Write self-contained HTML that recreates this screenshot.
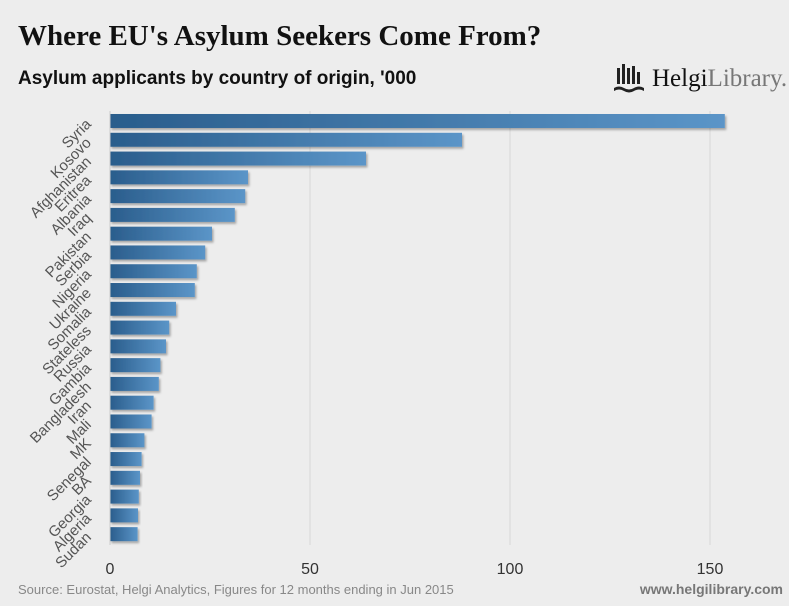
<!DOCTYPE html>
<html><head><meta charset="utf-8"><style>
body{margin:0;background:#ededed;}
svg{display:block;font-family:"Liberation Sans",sans-serif;}
</style></head><body>
<svg width="789" height="606" viewBox="0 0 789 606">
<defs>
<linearGradient id="g" x1="0" x2="1" y1="0" y2="0"><stop offset="0" stop-color="#2a5d8c"/><stop offset="1" stop-color="#5b95c8"/></linearGradient>
<filter id="sh" x="-5%" y="-30%" width="115%" height="180%"><feDropShadow dx="1.5" dy="2" stdDeviation="1" flood-color="#000" flood-opacity="0.3"/></filter>
</defs>
<rect width="789" height="606" fill="#ededed"/>
<text x="18" y="45" font-family="'Liberation Serif',serif" font-weight="bold" font-size="29" fill="#111">Where EU's Asylum Seekers Come From?</text>
<text x="18" y="84" font-weight="bold" font-size="19" fill="#111">Asylum applicants by country of origin, '000</text>
<g>
<g fill="#222"><rect x="617" y="68" width="3" height="16"/><rect x="622" y="64" width="3" height="20"/><rect x="627" y="68" width="3" height="16"/><rect x="632" y="66" width="3" height="18"/><rect x="637" y="72" width="3" height="12"/><path d="M614 88 q5 -3 10 0 t10 0 t10 0 l0 3 q-5 -3 -10 0 t-10 0 t-10 0z"/></g>
<text x="652" y="86" font-family="'Liberation Serif',serif" font-size="25" fill="#111">Helgi<tspan fill="#777">Library.</tspan></text>
</g>
<g id="grid"></g>
<g id="bars"></g>
<g id="ylab"></g>
<g id="xlab"></g>
<line x1="110" y1="111" x2="110" y2="545" stroke="#ccc" stroke-width="1"/>
<text x="18" y="594" font-size="13" fill="#888">Source: Eurostat, Helgi Analytics, Figures for 12 months ending in Jun 2015</text>
<text x="783" y="594" text-anchor="end" font-weight="bold" font-size="14" fill="#777">www.helgilibrary.com</text>
</svg>
<script>
const categories=["Syria","Kosovo","Afghanistan","Eritrea","Albania","Iraq","Pakistan","Serbia","Nigeria","Ukraine","Somalia","Stateless","Russia","Gambia","Bangladesh","Iran","Mali","MK","Senegal","BA","Georgia","Algeria","Sudan"];
const values=[153.7,88,64,34.5,33.8,31.2,25.5,23.8,21.7,21.2,16.5,14.8,14,12.6,12.2,10.9,10.4,8.6,7.9,7.5,7.2,7.0,6.9];
const xTicks=[0,50,100,150];
const NS="http://www.w3.org/2000/svg";
const x=v=>110+v*4;
const top0=111.6, step=18.78, bh=14;
const y=i=>top0+i*step+(step-bh)/2;
function mk(t,a,p){const e=document.createElementNS(NS,t);for(const k in a)e.setAttribute(k,a[k]);p.appendChild(e);return e;}
const grid=document.getElementById('grid'),bars=document.getElementById('bars'),yl=document.getElementById('ylab'),xl=document.getElementById('xlab');
xTicks.forEach(t=>{
 if(t>0){const l=mk('line',{x1:x(t),x2:x(t),y1:111,y2:545,stroke:'#d8d8d8'},grid);
 
 }
 const tx=mk('text',{x:x(t),y:574,'text-anchor':'middle','font-size':'16',fill:'#333'},xl);
 tx.textContent=t;
 
 
});
categories.forEach((c,i)=>{
 const r=mk('rect',{x:x(0),y:y(i),width:x(values[i])-x(0),height:bh,fill:'url(#g)',filter:'url(#sh)'},bars);
 
 
 const cy=y(i)+bh/2+4;
 const t=mk('text',{x:92,y:cy,'text-anchor':'end','font-size':'15',fill:'#555',transform:`rotate(-45 92 ${cy})`},yl);
 t.textContent=c;
 
 
});
</script>
</body></html>
